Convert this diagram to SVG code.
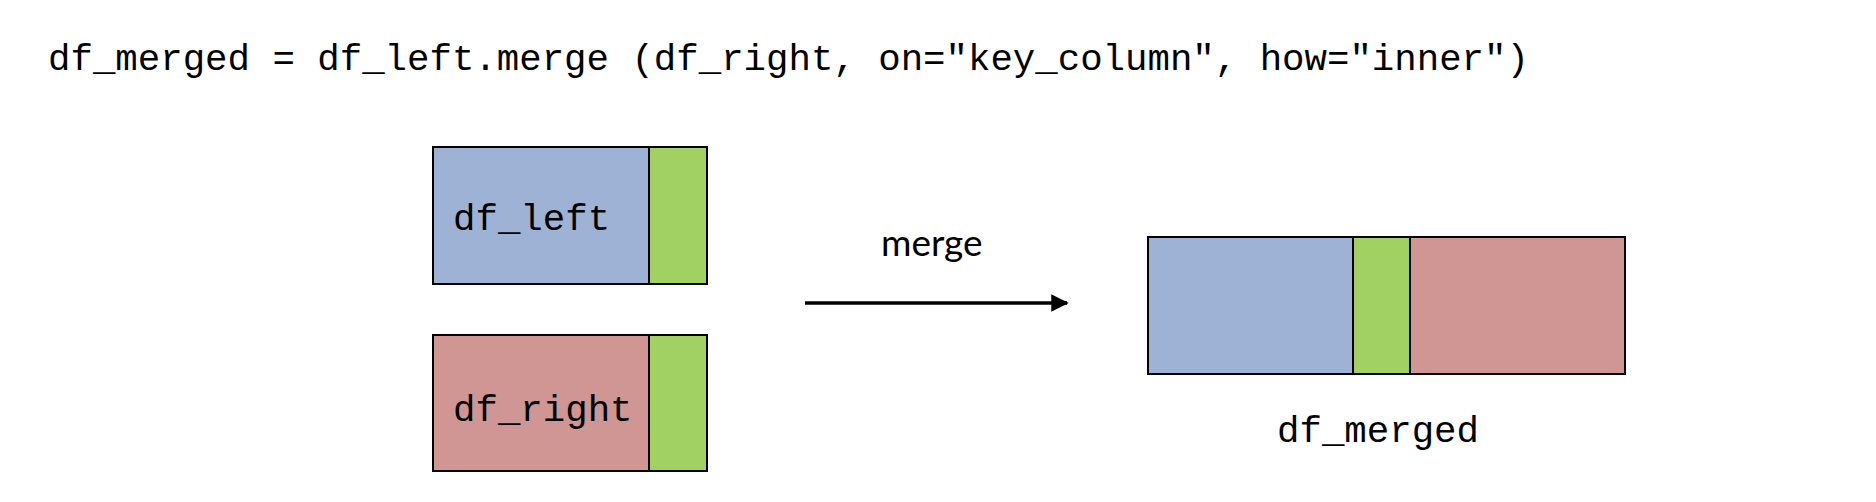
<svg xmlns="http://www.w3.org/2000/svg" width="1876" height="502" viewBox="0 0 1876 502">
<style>
.code{font-family:"Liberation Mono","DejaVu Sans Mono",monospace;font-size:37.4px;fill:#000}
.lbl{font-family:Lato,"Open Sans",sans-serif;font-size:37px;fill:#000}
.box{stroke:#000;stroke-width:2}
.blue{fill:#9EB2D5}
.green{fill:#A1D063}
.red{fill:#CF9694}
</style>
<defs>
<marker id="arr" markerWidth="5" markerHeight="5" refX="4.5" refY="2.5" orient="auto" markerUnits="strokeWidth">
<path d="M0,0 L5,2.5 L0,5 Z" fill="#000"/>
</marker>
</defs>
<rect width="1876" height="502" fill="#fff"/>
<text class="code" x="48" y="70">df_merged = df_left.merge (df_right, on="key_column", how="inner")</text>
<g id="df_left">
<rect class="box blue" x="433" y="147" width="216" height="137"/>
<rect class="box green" x="649" y="147" width="58" height="137"/>
<text class="code" x="453" y="230">df_left</text>
</g>
<g id="df_right">
<rect class="box red" x="433" y="335" width="216" height="136"/>
<rect class="box green" x="649" y="335" width="58" height="136"/>
<text class="code" x="453" y="421">df_right</text>
</g>
<g id="df_merged">
<rect class="box blue" x="1148" y="237" width="205" height="137"/>
<rect class="box green" x="1353" y="237" width="57" height="137"/>
<rect class="box red" x="1410" y="237" width="215" height="137"/>
<text class="code" x="1277" y="442">df_merged</text>
</g>
<g id="connectors">
<line x1="805" y1="303" x2="1067" y2="303" stroke="#000" stroke-width="3.5" marker-end="url(#arr)"/>
<text class="lbl" x="881" y="256">merge</text>
</g>
</svg>
